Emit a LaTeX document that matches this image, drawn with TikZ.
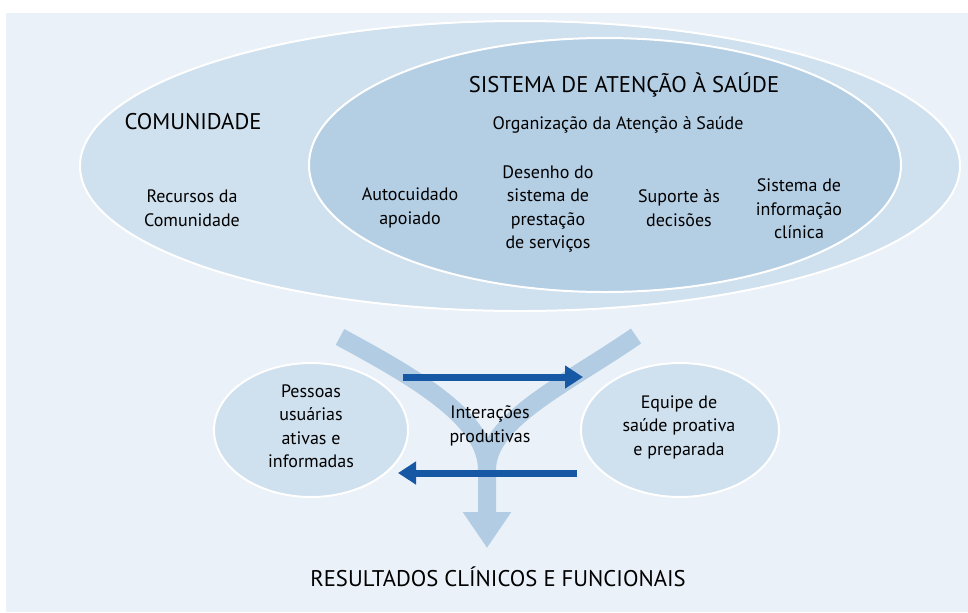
\documentclass[tikz,border=0pt]{standalone}
\usepackage{fontspec}
\setmainfont{PT Sans}
\usetikzlibrary{arrows.meta}

\definecolor{fundo}{RGB}{234,241,248}
\definecolor{azulclaro}{RGB}{207,224,238}
\definecolor{azulmedio}{RGB}{180,206,228}
\definecolor{azulseta}{RGB}{178,204,227}
\definecolor{azulescuro}{RGB}{22,88,164}

\tikzset{
  elipse/.style={draw=white, line width=1.5pt},
  rotulo/.style={align=center, inner sep=0pt, font=\fontsize{13.5}{17.6}\selectfont},
  titulo/.style={inner sep=0pt, font=\fontsize{17}{20}\selectfont},
  vseta/.style={draw=azulseta, line width=13.5pt},
  interacao/.style={draw=azulescuro, line width=5.25pt, -{Triangle[width=16.5pt,length=13.5pt]}},
}

\begin{document}
\begin{tikzpicture}[x=0.75pt,y=0.75pt,yscale=-1,xscale=1]
\useasboundingbox (0,0) rectangle (968,612);
\fill[fundo] (6,13) rectangle (968,612);

%Shape: Ellipse comunidade
\draw[elipse, fill=azulclaro] (520,166) ellipse (440 and 145);
%Shape: Ellipse sistema de atencao
\draw[elipse, fill=azulmedio] (605,165) ellipse (296 and 127);

% Text Node
\node[titulo] (sistema) at (624,85) {SISTEMA DE ATENÇÃO À SAÚDE};
\node[titulo] (comunidade) at (193,122) {COMUNIDADE};
\node[rotulo] (organizacao) at (618,125) {Organização da Atenção à Saúde};
\node[rotulo] (recursos) at (192,208) {Recursos da\\Comunidade};
\node[rotulo] (autocuidado) at (410,208) {Autocuidado\\apoiado};
\node[rotulo] (desenho) at (548,209) {Desenho do\\sistema de\\prestação\\de serviços};
\node[rotulo] (suporte) at (679,208) {Suporte às\\decisões};
\node[rotulo] (informacao) at (799,209) {Sistema de\\informação\\clínica};

%Shape: V arrow
\coordinate (vesq) at (340,337);
\coordinate (vdir) at (636,336);
\coordinate (juncao) at (487,470);
\coordinate (resultado) at (487,548);
\draw[vseta] (vdir) .. controls (565,385) and (487,420) .. (juncao);
\draw[vseta, -{Triangle[width=34.5pt,length=27pt]}] (vesq) .. controls (420,380) and (487,420) .. (juncao) -- (resultado);

%Shape: Ellipse pessoas / equipe
\draw[elipse, fill=azulclaro] (311,430) ellipse (97 and 67);
\draw[elipse, fill=azulclaro] (680,430) ellipse (99 and 67);

\node[rotulo] (pessoas) at (311,426) {Pessoas\\usuárias\\ativas e\\informadas};
\node[rotulo] (equipe) at (679,427) {Equipe de\\saúde proativa\\e preparada};
\node[rotulo] (interacoes) at (490,426) {Interações\\produtivas};

%Straight Lines
\coordinate (ida) at (403,377);
\coordinate (chegada) at (583,377);
\coordinate (volta) at (577,473);
\coordinate (retorno) at (398,473);
\draw[interacao] (ida) -- (chegada);
\draw[interacao] (volta) -- (retorno);

% Text Node
\node[titulo] (resultados) at (498,577) {RESULTADOS CLÍNICOS E FUNCIONAIS};

\end{tikzpicture}
\end{document}
